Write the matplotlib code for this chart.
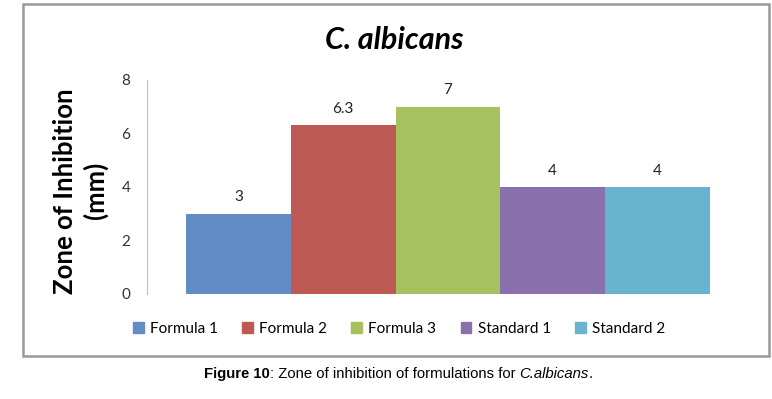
import matplotlib.pyplot as plt
import matplotlib.patches as mpatches

names = ['Formula 1', 'Formula 2', 'Formula 3', 'Standard 1', 'Standard 2']
values = [3, 6.3, 7, 4, 4]
colors = ['#628CC4', '#BE5A56', '#A8C160', '#8A70AC', '#68B3CE']

plt.rcParams['font.family'] = ['Lato', 'DejaVu Sans']

fig = plt.figure(figsize=(7.72, 3.99), dpi=100)
ax = fig.add_axes([0.1904, 0.2632, 0.7796, 0.5363])

pos = list(range(len(names)))
bars = ax.bar(pos, values, width=1.0, color=colors, label=names)
for b, v in zip(bars, values):
    ax.text(b.get_x() + b.get_width() / 2, v + 0.35, f'{v:g}',
            ha='center', va='bottom', fontsize=11, color='#222222')

ax.set_xlim(-0.872, 4.872)
ax.set_ylim(0, 8)
ax.set_yticks([0, 2, 4, 6, 8])
ax.set_xticks([])
ax.tick_params(axis='y', length=0, labelsize=11, labelcolor='#333333', pad=12)
for s in ['top', 'right', 'bottom']:
    ax.spines[s].set_visible(False)
ax.spines['left'].set_color('#BFBFBF')

fig.text(0.511, 0.90, 'C. albicans', ha='center', va='center',
         fontsize=22, fontweight='bold', fontstyle='italic')
fig.text(0.104, 0.522, 'Zone of Inhibition\n(mm)', ha='center', va='center',
         rotation=90, fontsize=18.5, fontweight='bold', linespacing=1.25)

handles = [mpatches.Patch(color=c, label=n) for c, n in zip(colors, names)]
fig.legend(handles=handles, loc='center', bbox_to_anchor=(0.517, 0.175),
           ncol=5, frameon=False, fontsize=11, handlelength=0.7,
           handleheight=0.7, handletextpad=0.4, columnspacing=1.6)

border = mpatches.Rectangle((23 / 772, 1 - 356 / 399), 746 / 772, 352 / 399,
                            transform=fig.transFigure, fill=False,
                            edgecolor='#999999', linewidth=1.8)
fig.patches.append(border)

# caption in pieces: bold, regular, italic
cap_y = 1 - 374 / 399
cap_size = 10.7
pieces = [('Figure 10', 'bold', 'normal'),
          (': Zone of inhibition of formulations for ', 'normal', 'normal'),
          ('C.albicans', 'normal', 'italic'),
          ('.', 'normal', 'normal')]
fig.canvas.draw()
r = fig.canvas.get_renderer()
x = 204 / 772
for txt, w, st in pieces:
    t = fig.text(x, cap_y, txt, fontsize=cap_size, fontweight=w, fontstyle=st,
                 family='Liberation Sans', va='center')
    x = t.get_window_extent(r).x1 / fig.bbox.width

fig.savefig('out.png', dpi=100)
